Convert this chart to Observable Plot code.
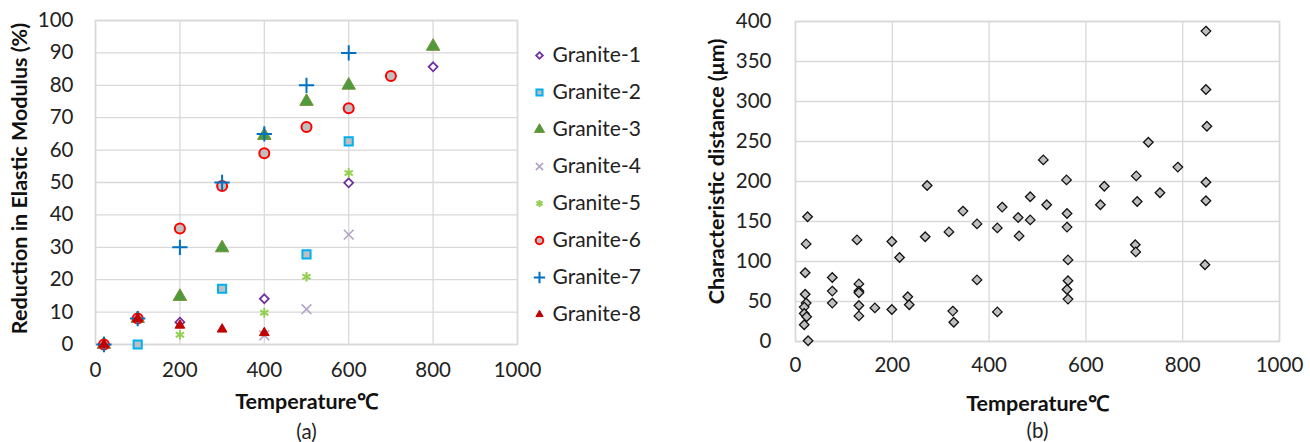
<!DOCTYPE html>
<html><head><meta charset="utf-8">
<script src="https://cdn.jsdelivr.net/npm/d3@7"></script>
<script src="https://cdn.jsdelivr.net/npm/@observablehq/plot@0.6"></script>
<style>
body{margin:0;background:#fff;}
#wrap{position:relative;width:1310px;height:442px;font-family:Lato,sans-serif;}
#wrap > svg{position:absolute;}
</style></head><body><div id="wrap"></div>
<script>
// ---- data (a) ----
const names = ["Granite-1","Granite-2","Granite-3","Granite-4","Granite-5","Granite-6","Granite-7","Granite-8"];
const g1Temp = [200, 400, 600, 800];
const g1Value = [6.9, 14.1, 49.9, 85.7];
const g2Temp = [100, 300, 500, 600];
const g2Value = [0, 17.2, 27.8, 62.7];
const g3Temp = [20, 100, 200, 300, 400, 500, 600, 800];
const g3Value = [0, 8, 14.8, 29.8, 64.5, 75, 80, 92];
const g4Temp = [400, 500, 600];
const g4Value = [2.8, 10.9, 33.9];
const g5Temp = [200, 400, 500, 600];
const g5Value = [3, 9.8, 20.9, 52.9];
const g6Temp = [20, 100, 200, 300, 400, 500, 600, 700];
const g6Value = [0, 8, 35.8, 48.9, 59, 67.1, 72.9, 82.9];
const g7Temp = [20, 100, 200, 300, 400, 500, 600];
const g7Value = [0, 8, 30, 50, 65, 80, 90];
const g8Temp = [20, 100, 200, 300, 400];
const g8Value = [0, 8, 5.9, 4.7, 3.6];
const xTicks = [0, 200, 400, 600, 800, 1000];
const yTicksA = [0, 10, 20, 30, 40, 50, 60, 70, 80, 90, 100];

// ---- data (b) ----
const bTemp = [25, 22, 20, 20, 22, 18, 18, 23, 18, 26,
  76, 76, 76, 127, 131, 131, 131, 131, 131, 164, 199, 199, 215, 232, 235,
  268, 272, 317, 325, 327, 346, 375, 375, 417, 417, 427, 460, 462, 485, 485,
  512, 519, 560, 561, 561, 563, 563, 561, 563, 630, 638,
  704, 706, 702, 703, 729, 753, 790, 848, 848, 850, 848, 848, 846];
const bDist = [156, 122, 86, 59, 48, 43, 35, 31, 21, 1,
  80, 63, 48, 127, 72, 63, 61, 45, 32, 42, 40, 125, 105, 56, 46,
  131, 195, 137, 38, 24, 163, 147, 77, 142, 37, 168, 155, 132, 181, 152,
  227, 171, 202, 160, 143, 102, 76, 65, 53, 171, 194,
  207, 175, 121, 112, 249, 186, 218, 388, 315, 269, 199, 176, 96];
const yTicksB = [0, 50, 100, 150, 200, 250, 300, 350, 400];

const temps = [g1Temp, g2Temp, g3Temp, g4Temp, g5Temp, g6Temp, g7Temp, g8Temp];
const values = [g1Value, g2Value, g3Value, g4Value, g5Value, g6Value, g7Value, g8Value];

const styles = [
  {symbol: "diamond2", fill: "white", stroke: "#7030a0", strokeWidth: 1.8, r: 4},
  {symbol: "square", fill: "#bfbfbf", stroke: "#00b0f0", strokeWidth: 2, r: 4.6},
  {symbol: "triangle", fill: "#4e9a3a", stroke: "#77933c", strokeWidth: 1, r: 5},
  {symbol: "times", fill: "none", stroke: "#b3a2c7", strokeWidth: 1.6, r: 4.5},
  {symbol: "asterisk", fill: "none", stroke: "#92d050", strokeWidth: 2, r: 4.5},
  {symbol: "circle", fill: "#bfbfbf", stroke: "#ff0000", strokeWidth: 2, r: 5},
  {symbol: "plus", fill: "none", stroke: "#0070c0", strokeWidth: 2, r: 5},
  {symbol: "triangle", fill: "#c00000", stroke: "#c00000", strokeWidth: 1, r: 3.6}
];

const gridStyle = {stroke: "#d9d9d9", strokeOpacity: 1, strokeWidth: 1.3};
const font = {fontFamily: "Lato, sans-serif", fontSize: "20px", color: "#222", background: "transparent", overflow: "visible"};
const titleStyle = {fontWeight: "bold", fontSize: 21.5, fill: "#111", textAnchor: "middle", lineAnchor: "middle"};
const wrap = document.getElementById("wrap");

// ---- chart (a) ----
const dotsA = names.map((n, i) => Plot.dot(d3.range(temps[i].length), {
  x: j => temps[i][j], y: j => values[i][j], ...styles[i]
}));
const left = Plot.plot({
  width: 525, height: 442,
  marginLeft: 95, marginRight: 8, marginTop: 20, marginBottom: 98,
  style: font,
  x: {domain: [0, 1000], label: null},
  y: {domain: [0, 100], label: null},
  marks: [
    Plot.gridX(xTicks, gridStyle),
    Plot.gridY(yTicksA, gridStyle),
    Plot.frame({stroke: "#d9d9d9", strokeWidth: 1.6}),
    Plot.axisX(xTicks, {tickSize: 0, tickPadding: 18, fontSize: 20.5, label: null, tickFormat: d => String(d)}),
    Plot.axisY(yTicksA, {tickSize: 0, tickPadding: 22, fontSize: 20.5, label: null}),
    ...dotsA,
    Plot.text(["Temperature℃"], {frameAnchor: "bottom", dy: 58, ...titleStyle}),
    Plot.text(["(a)"], {frameAnchor: "bottom", dy: 88, fontSize: 20.5, textAnchor: "middle", lineAnchor: "middle"}),
    Plot.text(["Reduction in Elastic Modulus (%)"], {frameAnchor: "left", rotate: -90, dx: -75, dy: -4, ...titleStyle})
  ]
});
left.style.left = "0px"; left.style.top = "0px";
wrap.appendChild(left);

// ---- legend (a) ----
const legend = Plot.plot({
  width: 150, height: 360, margin: 0,
  style: font,
  x: {domain: [0, 1], range: [19, 32], axis: null},
  y: {type: "point", domain: names, range: [34, 335], axis: null},
  marks: [
    ...names.map((n, i) => Plot.dot([n], {x: () => 0, y: d => d, ...styles[i], r: styles[i].r * 0.75})),
    Plot.text(names, {x: () => 1, y: d => d, text: d => d, textAnchor: "start", fontSize: 21, fill: "#222"})
  ]
});
legend.style.left = "520px"; legend.style.top = "0px";
wrap.appendChild(legend);

// ---- chart (b) ----
const right = Plot.plot({
  width: 610, height: 442,
  marginLeft: 95, marginRight: 31, marginTop: 21, marginBottom: 101,
  style: font,
  x: {domain: [0, 1000], label: null},
  y: {domain: [0, 400], label: null},
  marks: [
    Plot.gridX(xTicks, gridStyle),
    Plot.gridY(yTicksB, gridStyle),
    Plot.frame({stroke: "#d9d9d9", strokeWidth: 1.6}),
    Plot.axisX(xTicks, {tickSize: 0, tickPadding: 16, fontSize: 20.5, label: null, tickFormat: d => String(d)}),
    Plot.axisY(yTicksB, {tickSize: 0, tickPadding: 24, fontSize: 20.5, label: null}),
    Plot.dot(d3.range(bTemp.length), {x: j => bTemp[j], y: j => bDist[j], symbol: "diamond2", fill: "#bfbfbf", stroke: "#111", strokeWidth: 1.3, r: 4.3}),
    Plot.text(["Temperature℃"], {frameAnchor: "bottom", dy: 63, ...titleStyle}),
    Plot.text(["(b)"], {frameAnchor: "bottom", dy: 90, fontSize: 20.5, textAnchor: "middle", lineAnchor: "middle"}),
    Plot.text(["Characteristic distance (μm)"], {frameAnchor: "left", rotate: -90, dx: -78, dy: -10, ...titleStyle})
  ]
});
right.style.left = "700px"; right.style.top = "0px";
wrap.appendChild(right);
</script></body></html>
